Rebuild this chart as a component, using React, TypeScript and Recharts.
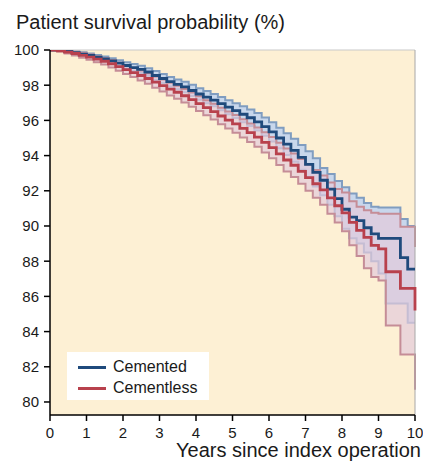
import React from "react";
import {
  ComposedChart,
  Area,
  Line,
  XAxis,
  YAxis,
  CartesianGrid,
  ReferenceLine,
} from "recharts";

// years since index operation
const years = [
  0, 0.2, 0.4, 0.6, 0.8, 1, 1.2, 1.4, 1.6, 1.8, 2, 2.2, 2.4, 2.6, 2.8, 3, 3.2, 3.4, 3.6, 3.8, 4,
  4.2, 4.4, 4.6, 4.8, 5, 5.2, 5.4, 5.6, 5.8, 6, 6.2, 6.4, 6.6, 6.8, 7, 7.2, 7.4, 7.6, 7.8, 8,
  8.2, 8.4, 8.6, 8.8, 9, 9.2, 9.4, 9.6, 9.8, 10,
];

const cemented = [
  100, 99.97, 99.92, 99.85, 99.77, 99.7, 99.6, 99.5, 99.38, 99.25, 99.12, 99.0, 98.9, 98.75, 98.55,
  98.38, 98.2, 98.05, 97.9, 97.7, 97.5, 97.32, 97.15, 96.95, 96.75, 96.55, 96.35, 96.15, 95.92,
  95.65, 95.35, 95.0, 94.65, 94.3, 93.9, 93.5, 93.05, 92.6, 92.1, 91.55, 90.95, 90.5, 90.3, 89.9,
  89.55, 89.3, 89.3, 89.3, 88.2, 87.55, 87.55,
];
const cementedHi = [
  100, 100, 99.98, 99.93, 99.87, 99.8, 99.72, 99.63, 99.53, 99.42, 99.3, 99.2, 99.1, 98.97, 98.8,
  98.63, 98.47, 98.33, 98.2, 98.02, 97.83, 97.67, 97.5, 97.33, 97.15, 96.97, 96.8, 96.62, 96.42,
  96.17, 95.9, 95.58, 95.27, 94.95, 94.6, 94.25, 93.85, 93.3, 92.95, 92.55, 92.2, 91.85, 91.6,
  91.3, 91.1, 91.05, 91.05, 91.05, 90.4, 90.0, 90.0,
];
const cementedLo = [
  100, 99.94, 99.86, 99.77, 99.67, 99.6, 99.48, 99.37, 99.23, 99.08, 98.94, 98.8, 98.7, 98.53,
  98.3, 98.13, 97.93, 97.77, 97.6, 97.38, 97.17, 96.97, 96.8, 96.57, 96.35, 96.13, 95.9, 95.68,
  95.42, 95.13, 94.8, 94.42, 94.03, 93.65, 93.2, 92.75, 92.25, 91.75, 91.2, 90.55, 89.85, 89.3,
  89.0, 88.5, 88.0, 87.3, 85.6, 85.6, 85.6, 84.5, 84.5,
];

const cementless = [
  100, 99.95, 99.88, 99.8, 99.7, 99.6, 99.48, 99.36, 99.22, 99.05, 98.88, 98.72, 98.55, 98.38,
  98.18, 97.98, 97.78, 97.6, 97.4, 97.18, 96.95, 96.72, 96.5, 96.25, 96.02, 95.8, 95.55, 95.3,
  95.05, 94.75, 94.45, 94.1, 93.75, 93.45, 93.1, 92.75, 92.4, 92.05, 91.6, 91.15, 90.75, 90.2,
  89.75, 89.35, 88.9, 88.7, 87.4, 87.4, 86.45, 86.45, 85.2,
];
const cementlessHi = [
  100, 99.99, 99.96, 99.91, 99.84, 99.75, 99.65, 99.55, 99.43, 99.28, 99.13, 98.98, 98.83, 98.68,
  98.5, 98.32, 98.14, 97.97, 97.78, 97.58, 97.37, 97.15, 96.95, 96.72, 96.5, 96.3, 96.07, 95.83,
  95.6, 95.32, 95.05, 94.73, 94.4, 94.12, 93.8, 93.5, 93.18, 92.87, 92.47, 92.1, 91.9, 91.4,
  91.1, 90.9, 90.75, 90.7, 90.7, 90.7, 89.95, 89.95, 88.8,
];
const cementlessLo = [
  100, 99.91, 99.8, 99.69, 99.56, 99.45, 99.31, 99.17, 99.01, 98.82, 98.63, 98.46, 98.27, 98.08,
  97.86, 97.64, 97.42, 97.23, 97.02, 96.78, 96.53, 96.29, 96.05, 95.78, 95.54, 95.3, 95.03, 94.77,
  94.5, 94.18, 93.85, 93.47, 93.1, 92.78, 92.4, 92.0, 91.6, 91.2, 90.7, 90.2, 89.7, 88.9, 88.3,
  87.6, 87.1, 86.9, 84.35, 84.35, 82.7, 82.7, 80.7,
];

const yTicks = [80, 82, 84, 86, 88, 90, 92, 94, 96, 98, 100];
const xTicks = [0, 1, 2, 3, 4, 5, 6, 7, 8, 9, 10];

const data = years.map((t, i) => ({
  t,
  cem: cemented[i],
  cemBand: [cementedLo[i], cementedHi[i]],
  cl: cementless[i],
  clBand: [cementlessLo[i], cementlessHi[i]],
}));

const FONT = "'Liberation Sans', Arial, Helvetica, sans-serif";
const BLUE = "#1f4a7c";
const RED = "#b8414d";

export default function App() {
  const tick = { fontSize: 15, fill: "#1a1a1a", fontFamily: FONT };
  return (
    <div style={{ position: "absolute", left: 0, top: 0, width: 423, height: 461, overflow: "hidden", fontFamily: FONT, background: "#fff" }}>
      <div style={{ position: "absolute", left: 16, top: 11, fontSize: 20, color: "#1a1a1a", whiteSpace: "nowrap" }}>
        Patient survival probability (%)
      </div>
      <ComposedChart width={423} height={461} data={data} margin={{ top: 50, right: 8, bottom: 16, left: 0 }}>
        <CartesianGrid horizontal={false} vertical={false} fill="#fdf0d4" stroke="none" />
        <XAxis
          dataKey="t"
          type="number"
          domain={[0, 10]}
          ticks={xTicks}
          height={30}
          tick={tick}
          tickSize={6}
          tickMargin={6}
          axisLine={{ stroke: "#000", strokeWidth: 1.5 }}
          tickLine={{ stroke: "#000", strokeWidth: 1.5 }}
        />
        <YAxis
          type="number"
          domain={[79.26, 100]}
          ticks={yTicks}
          allowDataOverflow
          width={50}
          tick={tick}
          tickSize={6}
          tickMargin={5}
          axisLine={{ stroke: "#000", strokeWidth: 1.5 }}
          tickLine={{ stroke: "#000", strokeWidth: 1.5 }}
        />
        <ReferenceLine y={100} stroke="#c9c9c9" strokeWidth={1} />
        <ReferenceLine x={10} stroke="#a8a8a8" strokeWidth={1} />
        <Area
          type="stepAfter"
          dataKey="cemBand"
          fill="#b1ccf6"
          fillOpacity={0.7}
          stroke="#809dc0"
          strokeWidth={2}
          isAnimationActive={false}
          activeDot={false}
        />
        <Area
          type="stepAfter"
          dataKey="clBand"
          fill="#e2cbdc"
          fillOpacity={0.7}
          stroke="#c58d97"
          strokeWidth={2}
          isAnimationActive={false}
          activeDot={false}
        />
        <Line type="stepAfter" dataKey="cem" stroke={BLUE} strokeWidth={2.8} dot={false} isAnimationActive={false} />
        <Line type="stepAfter" dataKey="cl" stroke={RED} strokeWidth={2.8} dot={false} isAnimationActive={false} />
      </ComposedChart>
      <div
        style={{
          position: "absolute",
          left: 67,
          top: 352,
          width: 142,
          height: 48,
          background: "#fff",
          fontSize: 16,
          color: "#1a1a1a",
        }}
      >
        {[
          { name: "Cemented", color: BLUE },
          { name: "Cementless", color: RED },
        ].map((s, i) => (
          <div key={s.name} style={{ position: "absolute", left: 11, top: 5 + i * 21, height: 20, display: "flex", alignItems: "center" }}>
            <div style={{ width: 28, height: 3, background: s.color, marginRight: 7 }} />
            <span>{s.name}</span>
          </div>
        ))}
      </div>
      <div style={{ position: "absolute", left: 176, top: 439, fontSize: 20, lineHeight: "22px", color: "#1a1a1a", whiteSpace: "nowrap" }}>
        Years since index operation
      </div>
    </div>
  );
}
